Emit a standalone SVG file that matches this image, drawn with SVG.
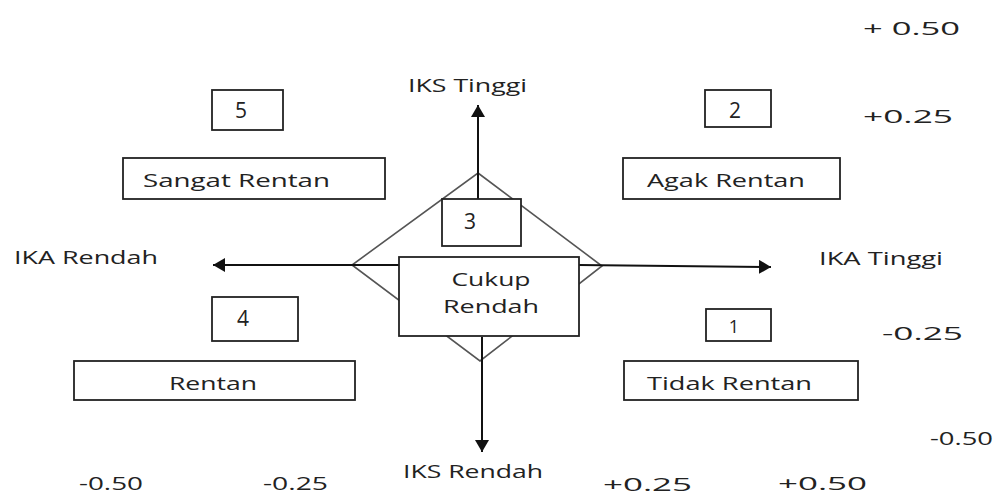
<svg xmlns="http://www.w3.org/2000/svg" width="997" height="497" viewBox="0 0 997 497">
<style>
text{font-family:"Open Sans","Noto Sans","DejaVu Sans",sans-serif;fill:#222;font-size:18px}
.box{fill:#fff;stroke:#222;stroke-width:1.8}
.dia{fill:none;stroke:#555;stroke-width:1.6}
.ax{stroke:#111;stroke-width:2;fill:none;marker-end:url(#ah)}
.m{text-anchor:middle}
.d{font-size:21px}
</style>
<defs>
<marker id="ah" viewBox="0 0 12 14" refX="12" refY="7" markerWidth="12" markerHeight="14" markerUnits="userSpaceOnUse" orient="auto">
<path d="M0,0 L12,7 L0,14 Z" fill="#111"/>
</marker>
</defs>
<g id="diamond">
<polygon class="dia" points="478,173 602,266 480,361 352,265"/>
</g>
<g id="connectors">
<line class="ax" x1="478" y1="199" x2="478" y2="105"/>
<line class="ax" x1="482" y1="337" x2="482" y2="452"/>
<line class="ax" x1="399" y1="265" x2="213" y2="265"/>
<line class="ax" x1="579" y1="265" x2="771" y2="267"/>
</g>
<g id="node-3">
<rect class="box" x="442" y="199" width="79" height="47"/>
<text class="m d" x="470" y="229">3</text>
</g>
<g id="node-cukup">
<rect class="box" x="399" y="257" width="180" height="79"/>
<text class="m" x="491" y="286" textLength="79" lengthAdjust="spacingAndGlyphs">Cukup</text>
<text class="m" x="491" y="313" textLength="96" lengthAdjust="spacingAndGlyphs">Rendah</text>
</g>
<g id="node-5">
<rect class="box" x="212" y="90" width="71" height="40"/>
<text class="m d" x="241" y="118">5</text>
</g>
<g id="node-sangat">
<rect class="box" x="123" y="158" width="262" height="41"/>
<text x="143" y="187" textLength="187" lengthAdjust="spacingAndGlyphs">Sangat Rentan</text>
</g>
<g id="node-2">
<rect class="box" x="705" y="90" width="66" height="37"/>
<text class="m d" x="735" y="118">2</text>
</g>
<g id="node-agak">
<rect class="box" x="623" y="158" width="217" height="41"/>
<text x="647" y="187" textLength="158" lengthAdjust="spacingAndGlyphs">Agak Rentan</text>
</g>
<g id="node-4">
<rect class="box" x="212" y="297" width="86" height="44"/>
<text class="m d" x="243" y="326">4</text>
</g>
<g id="node-rentan">
<rect class="box" x="74" y="361" width="281" height="39"/>
<text class="m" x="213" y="390" textLength="88" lengthAdjust="spacingAndGlyphs">Rentan</text>
</g>
<g id="node-1">
<rect class="box" x="706" y="309" width="65" height="32"/>
<text class="m" x="734" y="333" font-size="19">1</text>
</g>
<g id="node-tidak">
<rect class="box" x="624" y="361" width="234" height="39"/>
<text x="647" y="390" textLength="165" lengthAdjust="spacingAndGlyphs">Tidak Rentan</text>
</g>
<g id="labels">
<text x="408" y="92" textLength="119" lengthAdjust="spacingAndGlyphs">IKS Tinggi</text>
<text x="403" y="478" textLength="140" lengthAdjust="spacingAndGlyphs">IKS Rendah</text>
<text x="14" y="264" textLength="144" lengthAdjust="spacingAndGlyphs">IKA Rendah</text>
<text x="819" y="265" textLength="124" lengthAdjust="spacingAndGlyphs">IKA Tinggi</text>
<text x="863" y="35" font-size="19" textLength="97" lengthAdjust="spacingAndGlyphs">+ 0.50</text>
<text x="863" y="123" font-size="20" textLength="90" lengthAdjust="spacingAndGlyphs">+0.25</text>
<text x="882" y="340" font-size="21" textLength="81" lengthAdjust="spacingAndGlyphs">-0.25</text>
<text x="930" y="445" font-size="17" textLength="63" lengthAdjust="spacingAndGlyphs">-0.50</text>
<text x="79" y="490" font-size="17" textLength="64" lengthAdjust="spacingAndGlyphs">-0.50</text>
<text x="263" y="490" font-size="17" textLength="65" lengthAdjust="spacingAndGlyphs">-0.25</text>
<text x="603" y="491" font-size="20" textLength="89" lengthAdjust="spacingAndGlyphs">+0.25</text>
<text x="778" y="490" font-size="20" textLength="89" lengthAdjust="spacingAndGlyphs">+0.50</text>
</g>
</svg>
